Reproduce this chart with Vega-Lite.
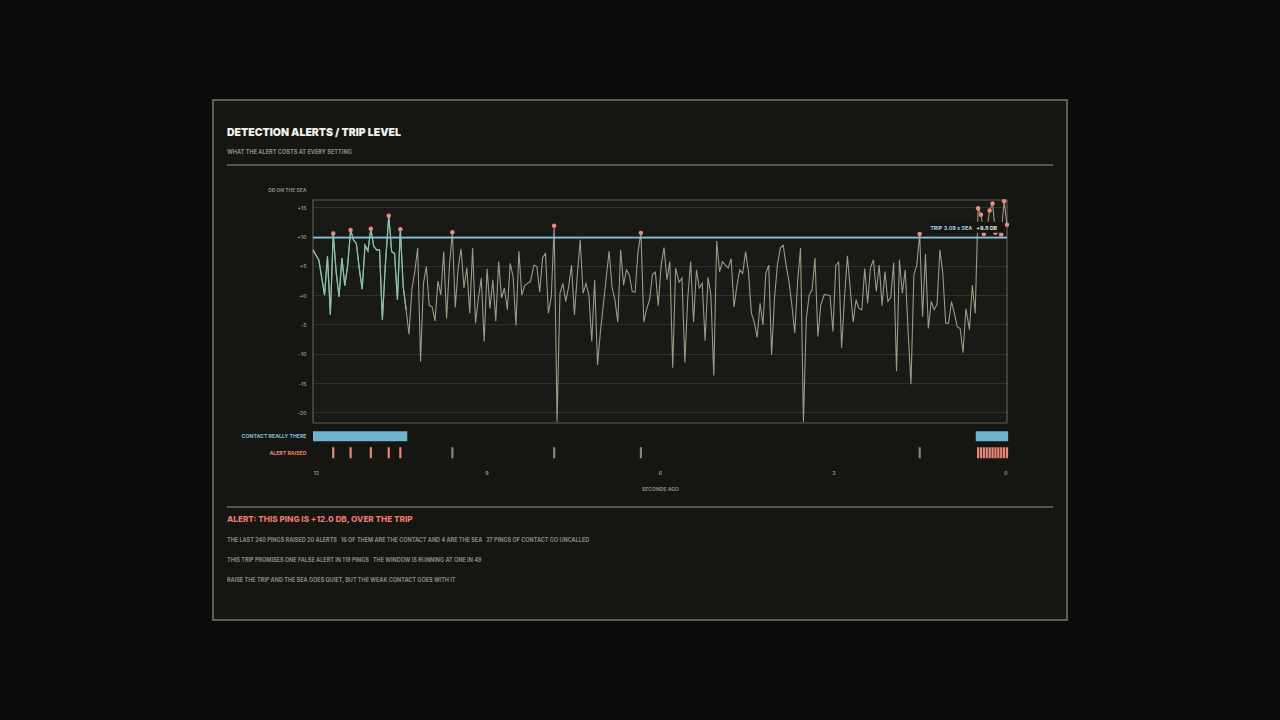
{
  "$schema": "https://vega.github.io/schema/vega-lite/v6.json",
  "width": 854,
  "height": 520,
  "autosize": "none",
  "padding": {"left": 213, "top": 100, "right": 213, "bottom": 100},
  "background": "#0b0b0a",
  "title": {
    "text": "DETECTION ALERTS / TRIP LEVEL",
    "subtitle": "WHAT THE ALERT COSTS AT EVERY SETTING",
    "anchor": "start",
    "frame": "group",
    "orient": "top",
    "offset": -56,
    "dx": 14,
    "font": "Inter",
    "fontSize": 10.5,
    "fontWeight": 900,
    "color": "#f2f1ea",
    "subtitleFont": "Inter",
    "subtitleFontSize": 5.6,
    "subtitleFontWeight": 700,
    "subtitleColor": "#8d8c81",
    "subtitlePadding": 12
  },
  "data": {
    "values": [
      {"t": 12, "v": 7.7, "c": 1},
      {"t": 11.95, "v": 6.8, "c": 1},
      {"t": 11.9, "v": 6.0, "c": 1},
      {"t": 11.85, "v": 3.0, "c": 1},
      {"t": 11.8, "v": 0.0, "c": 1},
      {"t": 11.75, "v": 6.6, "c": 1},
      {"t": 11.7, "v": -3.4, "c": 1},
      {"t": 11.65, "v": 10.5, "c": 1, "a": 1},
      {"t": 11.6, "v": 4.0, "c": 1},
      {"t": 11.55, "v": -0.3, "c": 1},
      {"t": 11.5, "v": 6.3, "c": 1},
      {"t": 11.45, "v": 1.6, "c": 1},
      {"t": 11.4, "v": 5.1, "c": 1},
      {"t": 11.35, "v": 11.1, "c": 1, "a": 1},
      {"t": 11.3, "v": 9.4, "c": 1},
      {"t": 11.25, "v": 8.8, "c": 1},
      {"t": 11.2, "v": 4.5, "c": 1},
      {"t": 11.15, "v": 1.0, "c": 1},
      {"t": 11.1, "v": 8.5, "c": 1},
      {"t": 11.05, "v": 7.5, "c": 1},
      {"t": 11, "v": 11.3, "c": 1, "a": 1},
      {"t": 10.95, "v": 8.3, "c": 1},
      {"t": 10.9, "v": 7.7, "c": 1},
      {"t": 10.85, "v": 7.7, "c": 1},
      {"t": 10.8, "v": -4.2, "c": 1},
      {"t": 10.75, "v": 5.0, "c": 1},
      {"t": 10.69, "v": 13.5, "c": 1, "a": 1},
      {"t": 10.64, "v": 7.4, "c": 1},
      {"t": 10.59, "v": 7.1, "c": 1},
      {"t": 10.54, "v": -0.8, "c": 1},
      {"t": 10.49, "v": 11.2, "c": 1, "a": 1},
      {"t": 10.44, "v": 1.4, "c": 1},
      {"t": 10.39, "v": -2.5, "c": 1},
      {"t": 10.34, "v": -6.7},
      {"t": 10.29, "v": 1.0},
      {"t": 10.24, "v": 4.0},
      {"t": 10.19, "v": 8.0},
      {"t": 10.14, "v": -11.3},
      {"t": 10.09, "v": 2.0},
      {"t": 10.04, "v": 4.9},
      {"t": 9.99, "v": -1.8},
      {"t": 9.94, "v": -2.0},
      {"t": 9.89, "v": -4.4},
      {"t": 9.84, "v": 2.4},
      {"t": 9.79, "v": 0.0},
      {"t": 9.74, "v": 7.4},
      {"t": 9.69, "v": -4.0},
      {"t": 9.64, "v": 5.1},
      {"t": 9.59, "v": 10.7, "a": 1},
      {"t": 9.54, "v": -2.1},
      {"t": 9.49, "v": 4.6},
      {"t": 9.44, "v": 7.9},
      {"t": 9.39, "v": 1.2},
      {"t": 9.34, "v": 4.7},
      {"t": 9.29, "v": -3.1},
      {"t": 9.24, "v": 8.0},
      {"t": 9.19, "v": -4.8},
      {"t": 9.14, "v": -0.5},
      {"t": 9.09, "v": 2.9},
      {"t": 9.04, "v": -7.9},
      {"t": 8.99, "v": 4.5},
      {"t": 8.94, "v": -2.3},
      {"t": 8.89, "v": 2.6},
      {"t": 8.84, "v": -4.4},
      {"t": 8.79, "v": 5.7},
      {"t": 8.74, "v": -0.5},
      {"t": 8.69, "v": 1.2},
      {"t": 8.64, "v": -2.5},
      {"t": 8.59, "v": 5.4},
      {"t": 8.54, "v": 3.1},
      {"t": 8.49, "v": -5.2},
      {"t": 8.44, "v": 7.5},
      {"t": 8.39, "v": 0.0},
      {"t": 8.34, "v": 1.6},
      {"t": 8.29, "v": 2.0},
      {"t": 8.24, "v": 2.3},
      {"t": 8.18, "v": 5.1},
      {"t": 8.13, "v": 4.9},
      {"t": 8.08, "v": 0.5},
      {"t": 8.03, "v": 6.4},
      {"t": 7.98, "v": 7.1},
      {"t": 7.93, "v": -3.1},
      {"t": 7.88, "v": -0.3},
      {"t": 7.83, "v": 11.8, "a": 1},
      {"t": 7.78, "v": -21.6},
      {"t": 7.73, "v": 0.3},
      {"t": 7.68, "v": 2.0},
      {"t": 7.63, "v": -1.1},
      {"t": 7.58, "v": 1.4},
      {"t": 7.53, "v": 5.1},
      {"t": 7.48, "v": -3.4},
      {"t": 7.43, "v": 3.4},
      {"t": 7.38, "v": 9.4},
      {"t": 7.33, "v": 0.3},
      {"t": 7.28, "v": 2.0},
      {"t": 7.23, "v": 0.0},
      {"t": 7.18, "v": -7.9},
      {"t": 7.13, "v": 2.6},
      {"t": 7.08, "v": -11.9},
      {"t": 7.03, "v": -6.2},
      {"t": 6.98, "v": -1.7},
      {"t": 6.93, "v": 2.9},
      {"t": 6.88, "v": 7.5},
      {"t": 6.83, "v": 1.4},
      {"t": 6.78, "v": -0.8},
      {"t": 6.73, "v": -4.6},
      {"t": 6.68, "v": 7.7},
      {"t": 6.63, "v": 1.7},
      {"t": 6.58, "v": 4.3},
      {"t": 6.53, "v": 3.4},
      {"t": 6.48, "v": 0.6},
      {"t": 6.43, "v": 0.5},
      {"t": 6.38, "v": 7.4},
      {"t": 6.33, "v": 10.6, "a": 1},
      {"t": 6.28, "v": -4.6},
      {"t": 6.23, "v": -2.3},
      {"t": 6.18, "v": -0.8},
      {"t": 6.13, "v": 3.5},
      {"t": 6.08, "v": 3.9},
      {"t": 6.03, "v": -1.8},
      {"t": 5.98, "v": 5.1},
      {"t": 5.93, "v": 8.1},
      {"t": 5.88, "v": 2.6},
      {"t": 5.83, "v": 5.7},
      {"t": 5.78, "v": -12.4},
      {"t": 5.73, "v": 4.6},
      {"t": 5.67, "v": 2.2},
      {"t": 5.62, "v": 2.9},
      {"t": 5.57, "v": -11.5},
      {"t": 5.52, "v": -0.5},
      {"t": 5.47, "v": 5.7},
      {"t": 5.42, "v": -4.6},
      {"t": 5.37, "v": 4.3},
      {"t": 5.32, "v": 1.2},
      {"t": 5.27, "v": 2.0},
      {"t": 5.22, "v": -7.8},
      {"t": 5.17, "v": 3.0},
      {"t": 5.12, "v": 0.0},
      {"t": 5.07, "v": -13.7},
      {"t": 5.02, "v": 9.2},
      {"t": 4.97, "v": 4.0},
      {"t": 4.92, "v": 5.7},
      {"t": 4.87, "v": 5.1},
      {"t": 4.82, "v": 4.6},
      {"t": 4.77, "v": 6.2},
      {"t": 4.72, "v": -2.0},
      {"t": 4.67, "v": 1.6},
      {"t": 4.62, "v": 4.3},
      {"t": 4.57, "v": 3.7},
      {"t": 4.52, "v": 7.4},
      {"t": 4.47, "v": 3.9},
      {"t": 4.42, "v": -3.1},
      {"t": 4.37, "v": -4.6},
      {"t": 4.32, "v": -7.2},
      {"t": 4.27, "v": -1.4},
      {"t": 4.22, "v": -5.1},
      {"t": 4.17, "v": 3.7},
      {"t": 4.12, "v": 5.1},
      {"t": 4.07, "v": -10.2},
      {"t": 4.02, "v": -0.5},
      {"t": 3.97, "v": 5.1},
      {"t": 3.92, "v": 8.0},
      {"t": 3.87, "v": 8.5},
      {"t": 3.82, "v": 5.1},
      {"t": 3.77, "v": 2.3},
      {"t": 3.72, "v": -1.7},
      {"t": 3.67, "v": -6.5},
      {"t": 3.62, "v": 2.3},
      {"t": 3.57, "v": 8.0},
      {"t": 3.52, "v": -21.6},
      {"t": 3.47, "v": -4.0},
      {"t": 3.42, "v": 0.0},
      {"t": 3.37, "v": 0.9},
      {"t": 3.32, "v": 6.3},
      {"t": 3.27, "v": -7.1},
      {"t": 3.22, "v": -1.7},
      {"t": 3.16, "v": 0.1},
      {"t": 3.11, "v": 0.0},
      {"t": 3.06, "v": -0.1},
      {"t": 3.01, "v": -6.2},
      {"t": 2.96, "v": 5.1},
      {"t": 2.91, "v": 5.6},
      {"t": 2.86, "v": -9.0},
      {"t": 2.81, "v": -0.5},
      {"t": 2.76, "v": 6.7},
      {"t": 2.71, "v": 1.0},
      {"t": 2.66, "v": -4.6},
      {"t": 2.61, "v": -0.8},
      {"t": 2.56, "v": -2.3},
      {"t": 2.51, "v": -2.5},
      {"t": 2.46, "v": 4.5},
      {"t": 2.41, "v": -1.4},
      {"t": 2.36, "v": 4.7},
      {"t": 2.31, "v": 6.0},
      {"t": 2.26, "v": 0.6},
      {"t": 2.21, "v": 5.1},
      {"t": 2.16, "v": -1.8},
      {"t": 2.11, "v": 4.0},
      {"t": 2.06, "v": -1.1},
      {"t": 2.01, "v": -0.4},
      {"t": 1.96, "v": 5.5},
      {"t": 1.91, "v": -13.0},
      {"t": 1.86, "v": 6.0},
      {"t": 1.81, "v": 0.3},
      {"t": 1.76, "v": 4.3},
      {"t": 1.71, "v": -6.2},
      {"t": 1.66, "v": -15.2},
      {"t": 1.61, "v": 3.5},
      {"t": 1.56, "v": 5.1},
      {"t": 1.51, "v": 10.4, "a": 1},
      {"t": 1.46, "v": -3.7},
      {"t": 1.41, "v": 7.0},
      {"t": 1.36, "v": -5.7},
      {"t": 1.31, "v": -1.1},
      {"t": 1.26, "v": -2.5},
      {"t": 1.21, "v": -1.6},
      {"t": 1.16, "v": 7.7},
      {"t": 1.11, "v": 3.7},
      {"t": 1.06, "v": -4.8},
      {"t": 1.01, "v": -4.8},
      {"t": 0.96, "v": -1.1},
      {"t": 0.91, "v": -3.1},
      {"t": 0.86, "v": -5.4},
      {"t": 0.81, "v": -5.7},
      {"t": 0.76, "v": -9.8},
      {"t": 0.71, "v": -2.3},
      {"t": 0.65, "v": -5.9},
      {"t": 0.6, "v": 1.7},
      {"t": 0.55, "v": -3.1},
      {"t": 0.5, "v": 14.8, "c": 1, "a": 1},
      {"t": 0.45, "v": 13.7, "c": 1, "a": 1},
      {"t": 0.4, "v": 10.4, "c": 1, "a": 1},
      {"t": 0.35, "v": 11.2, "c": 1, "a": 1},
      {"t": 0.3, "v": 14.4, "c": 1, "a": 1},
      {"t": 0.25, "v": 15.6, "c": 1, "a": 1},
      {"t": 0.2, "v": 10.6, "c": 1, "a": 1},
      {"t": 0.15, "v": 11.0, "c": 1, "a": 1},
      {"t": 0.1, "v": 10.3, "c": 1, "a": 1},
      {"t": 0.05, "v": 16.0, "c": 1, "a": 1},
      {"t": 0, "v": 12.0, "c": 1, "a": 1}
    ]
  },
  "layer": [
    {
      "layer": [
        {
          "data": {"values": [{}]},
          "mark": {"type": "rect", "fill": "#ffffff", "fillOpacity": 0.018, "stroke": "#5e5d54", "strokeWidth": 1.2},
          "encoding": {
            "x": {
              "datum": 12,
              "type": "quantitative",
              "scale": {"domain": [12, 0], "range": [100, 794], "nice": false, "zero": false},
              "axis": {
                "orient": "bottom",
                "offset": -152,
                "values": [12, 9, 6, 3, 0],
                "format": "d",
                "grid": false,
                "labelPadding": 2,
                "title": "SECONDS AGO",
                "titlePadding": 11
              }
            },
            "x2": {"datum": 0},
            "y": {
              "datum": -21.8,
              "type": "quantitative",
              "scale": {"domain": [-21.8, 16.2], "range": [323, 100], "nice": false, "zero": false},
              "axis": {
                "orient": "left",
                "offset": -100,
                "values": [-20, -15, -10, -5, 0, 5, 10, 15],
                "labelExpr": "(datum.value >= 0 ? '+' : '') + datum.value",
                "grid": true,
                "gridColor": "#2c2b26",
                "gridWidth": 1,
                "labelPadding": 7,
                "title": "DB ON THE SEA",
                "titleAngle": 0,
                "titleAlign": "right",
                "titleBaseline": "middle",
                "titleX": -7,
                "titleY": 89
              }
            },
            "y2": {"datum": 16.2}
          }
        },
        {
          "mark": {"type": "line", "color": "#9c9a86", "strokeWidth": 1.1},
          "encoding": {
            "x": {"field": "t", "type": "quantitative"},
            "y": {"field": "v", "type": "quantitative"}
          }
        },
        {
          "transform": [{"filter": "datum.c == 1 && datum.t > 6"}],
          "mark": {"type": "line", "color": "#86c2ad", "strokeWidth": 1.2},
          "encoding": {
            "x": {"field": "t", "type": "quantitative"},
            "y": {"field": "v", "type": "quantitative"}
          }
        },
        {
          "data": {"values": [{}]},
          "mark": {"type": "rule", "color": "#80c6e2", "strokeWidth": 1.8},
          "encoding": {
            "x": {"datum": 12, "type": "quantitative"},
            "x2": {"datum": 0},
            "y": {"datum": 9.8, "type": "quantitative"}
          }
        },
        {
          "transform": [{"filter": "datum.a == 1"}],
          "mark": {"type": "circle", "color": "#ec8a7c", "opacity": 1, "size": 20},
          "encoding": {
            "x": {"field": "t", "type": "quantitative"},
            "y": {"field": "v", "type": "quantitative"}
          }
        },
        {
          "data": {"values": [{}]},
          "mark": {"type": "rect", "fill": "#151512"},
          "encoding": {
            "x": {"datum": 1.33, "type": "quantitative"},
            "x2": {"datum": 0.07},
            "y": {"datum": 10.6, "type": "quantitative"},
            "y2": {"datum": 12.5}
          }
        },
        {
          "data": {"values": [{}]},
          "mark": {"type": "text", "text": "TRIP 3.09 x SEA", "align": "right", "baseline": "middle", "font": "Inter", "fontSize": 5.4, "fontWeight": 700, "color": "#9fd0e4"},
          "encoding": {
            "x": {"datum": 0.6, "type": "quantitative"},
            "y": {"datum": 11.5, "type": "quantitative"}
          }
        },
        {
          "data": {"values": [{}]},
          "mark": {"type": "text", "text": "+9.8 DB", "align": "right", "baseline": "middle", "font": "Inter", "fontSize": 5.4, "fontWeight": 700, "color": "#e6e4da"},
          "encoding": {
            "x": {"datum": 0.17, "type": "quantitative"},
            "y": {"datum": 11.5, "type": "quantitative"}
          }
        }
      ]
    },
    {
      "layer": [
        {
          "data": {
            "values": [
              {"row": "CONTACT REALLY THERE", "from": 12, "to": 10.37},
              {"row": "CONTACT REALLY THERE", "from": 0.54, "to": -0.02}
            ]
          },
          "mark": {"type": "bar", "color": "#6fb3cd", "height": 10},
          "encoding": {
            "x": {"field": "from", "type": "quantitative"},
            "x2": {"field": "to"},
            "y": {
              "field": "row",
              "type": "nominal",
              "scale": {"type": "band", "domain": ["CONTACT REALLY THERE", "ALERT RAISED"], "range": [328, 361], "paddingInner": 0, "paddingOuter": 0},
              "axis": {
                "orient": "left",
                "offset": -100,
                "title": null,
                "grid": false,
                "labelPadding": 7,
                "labelColor": {"condition": {"test": "datum.value == 'ALERT RAISED'", "value": "#e8806f"}, "value": "#80bcd5"}
              }
            }
          }
        },
        {
          "transform": [{"filter": "datum.a == 1"}],
          "mark": {"type": "tick", "thickness": 2.2, "size": 11, "opacity": 1},
          "encoding": {
            "x": {"field": "t", "type": "quantitative"},
            "y": {"datum": "ALERT RAISED", "type": "nominal"},
            "color": {"condition": {"test": "datum.c == 1", "value": "#e8877a"}, "value": "#86847a"}
          }
        }
      ]
    },
    {
      "data": {
        "values": [
          {"n": 0, "s": "ALERT: THIS PING IS +12.0 DB, OVER THE TRIP"},
          {"n": 1, "s": "THE LAST 240 PINGS RAISED 20 ALERTS \u00a0 16 OF THEM ARE THE CONTACT AND 4 ARE THE SEA \u00a0 27 PINGS OF CONTACT GO UNCALLED"},
          {"n": 2, "s": "THIS TRIP PROMISES ONE FALSE ALERT IN 119 PINGS \u00a0 THE WINDOW IS RUNNING AT ONE IN 49"},
          {"n": 3, "s": "RAISE THE TRIP AND THE SEA GOES QUIET, BUT THE WEAK CONTACT GOES WITH IT"}
        ]
      },
      "layer": [
        {
          "mark": {"type": "rule", "color": "#55544c", "strokeWidth": 1.5},
          "encoding": {"x": {"value": 14}, "x2": {"value": 840}, "y": {"value": 65}}
        },
        {
          "mark": {"type": "rule", "color": "#55544c", "strokeWidth": 1.5},
          "encoding": {"x": {"value": 14}, "x2": {"value": 840}, "y": {"value": 407}}
        },
        {
          "transform": [{"filter": "datum.n == 0"}],
          "mark": {"type": "text", "align": "left", "baseline": "middle", "font": "Inter", "fontSize": 8.2, "fontWeight": 800, "color": "#e8786b"},
          "encoding": {
            "x": {"value": 14},
            "y": {"field": "n", "type": "quantitative", "scale": {"domain": [0, 3], "range": [420, 480]}, "axis": null},
            "text": {"field": "s"}
          }
        },
        {
          "transform": [{"filter": "datum.n > 0"}],
          "mark": {"type": "text", "align": "left", "baseline": "middle", "font": "Inter", "fontSize": 5.5, "fontWeight": 700, "color": "#8a897e"},
          "encoding": {
            "x": {"value": 14},
            "y": {"field": "n", "type": "quantitative"},
            "text": {"field": "s"}
          }
        }
      ]
    }
  ],
  "resolve": {"scale": {"y": "independent"}, "axis": {"y": "independent"}},
  "config": {
    "view": {"fill": "#151512", "stroke": "#78776c", "strokeWidth": 1.5},
    "axis": {
      "labelFont": "Inter",
      "labelFontWeight": 700,
      "labelFontSize": 5.2,
      "labelColor": "#8a897e",
      "ticks": false,
      "domain": false,
      "titleFont": "Inter",
      "titleFontWeight": 700,
      "titleFontSize": 5,
      "titleColor": "#8a897e"
    }
  }
}
